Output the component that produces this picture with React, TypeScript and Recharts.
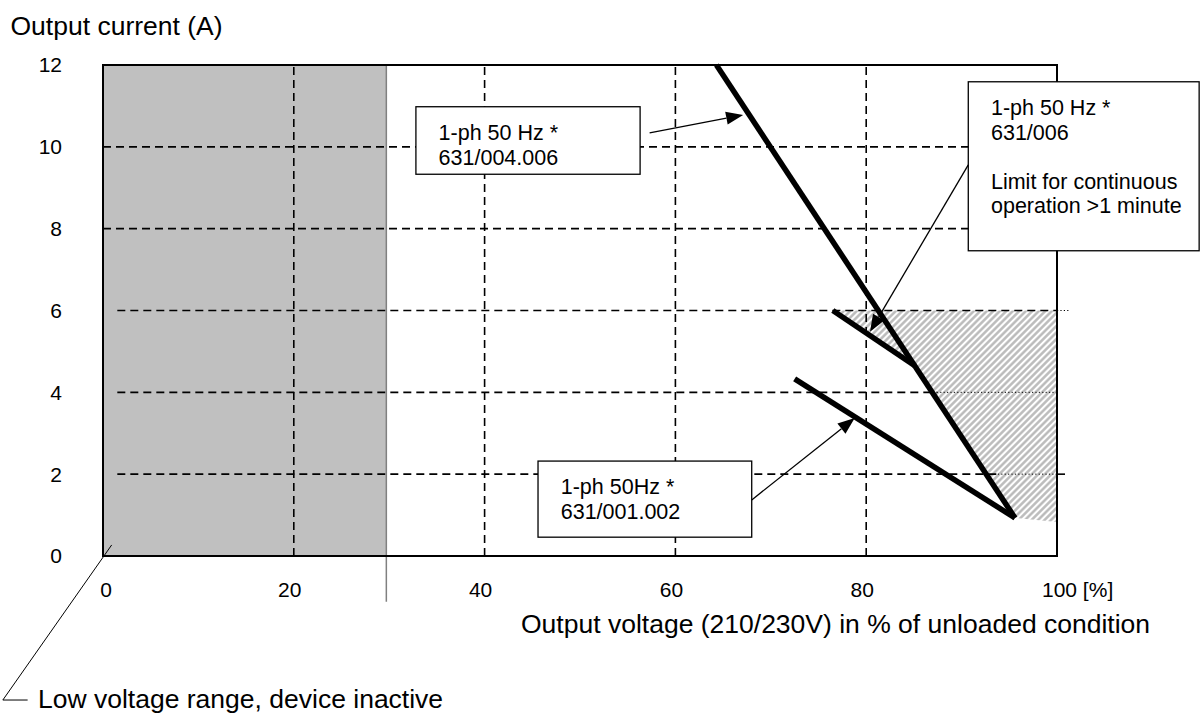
import React from "react";
import { ComposedChart, Line, Area, XAxis, YAxis, ReferenceArea, ReferenceLine } from "recharts";

const FONT = '"Liberation Sans", Arial, sans-serif';

const xTicks = [0, 20, 40, 60, 80, 100];
const yTicks = [0, 2, 4, 6, 8, 10, 12];

// limit curves, [output voltage %, output current A]
const curve004006 = [[64.3, 12], [95.6, 0.93]];
const curve006 = [[76.5, 6.0], [85.1, 4.65]];
const curve001002 = [[72.5, 4.33], [95.6, 0.93]];

// hatched zone under the 6 A line
const hatchX = [76.5, 85.1, 95.6, 100];
const hatchLow = [6.0, 4.65, 0.93, 0.83];
const hatchHigh = [6, 6, 6, 6];

// low voltage range, device inactive
const inactiveUntil = 29.7;

const vGrid = [20, 40, 60, 80];
const hGrid = [
  { y: 10, from: 0, to: 100, dotted: false },
  { y: 8, from: 0, to: 100, dotted: false },
  { y: 6, from: 1.5, to: 100, dotted: false },
  { y: 6, from: 100, to: 101.2, dotted: true },
  { y: 4, from: 1.5, to: 87.4, dotted: false },
  { y: 4, from: 87.4, to: 100, dotted: true },
  { y: 2, from: 1.5, to: 93.8, dotted: false },
  { y: 2, from: 93.8, to: 100, dotted: true },
  { y: 2, from: 100, to: 100.9, dotted: false },
];

const notes = [
  { x1: 32.8, x2: 56.3, y1: 9.33, y2: 10.98, lines: ["1-ph 50 Hz *", "631/004.006"] },
  { x1: 90.7, x2: 114.9, y1: 7.46, y2: 11.59, lines: ["1-ph 50 Hz *", "631/006", "", "Limit for continuous", "operation >1 minute"] },
  { x1: 45.6, x2: 68.0, y1: 0.46, y2: 2.32, lines: ["1-ph 50Hz *", "631/001.002"] },
];

const arrows = [
  { from: [57.3, 10.34], to: [67.1, 10.78] },
  { from: [90.7, 9.56], to: [80.4, 5.48] },
  { from: [68.0, 1.37], to: [78.8, 3.37] },
];

const leader = [[0.91, 0.27], [-10.5, -3.52], [-7.9, -3.52]];

type Row = { x: number; a?: number; b?: number; c?: number; hatch?: [number, number] };
const rowMap = new Map<number, Row>();
const put = (x: number, key: string, v: any) => {
  const r: any = rowMap.get(x) ?? { x };
  r[key] = v;
  rowMap.set(x, r);
};
curve004006.forEach(([x, y]) => put(x, "a", y));
curve006.forEach(([x, y]) => put(x, "b", y));
curve001002.forEach(([x, y]) => put(x, "c", y));
hatchX.forEach((x, i) => put(x, "hatch", [hatchLow[i], hatchHigh[i]]));
const rows = [...rowMap.values()].sort((p, q) => p.x - q.x);

function Arrow(p: any) {
  const { x1, y1, x2, y2 } = p;
  const ang = Math.atan2(y2 - y1, x2 - x1);
  const len = 17;
  const half = 6.5;
  const bx = x2 - len * Math.cos(ang);
  const by = y2 - len * Math.sin(ang);
  const nx = -Math.sin(ang) * half;
  const ny = Math.cos(ang) * half;
  return (
    <g>
      <line x1={x1} y1={y1} x2={bx} y2={by} stroke="#000" strokeWidth={1.3} />
      <polygon points={`${x2},${y2} ${bx + nx},${by + ny} ${bx - nx},${by - ny}`} fill="#000" />
    </g>
  );
}

const noteShape = (lines: string[]) => (p: any) => (
  <g>
    <rect x={p.x} y={p.y} width={p.width} height={p.height} fill="#fff" stroke="#000" strokeWidth={1.3} />
    {lines.map((t, i) =>
      t ? (
        <text key={i} x={p.x + 22.7} y={p.y + 33.3 + i * 24.6} fontSize={21.5} fontFamily={FONT} fill="#000">
          {t}
        </text>
      ) : null
    )}
  </g>
);

function XTick(p: any) {
  const v = p.payload.value;
  if (v === 100) {
    return (
      <text x={p.x - 15} y={p.y} dy="0.71em" textAnchor="start" fontSize={21} fontFamily={FONT} fill="#000">
        100 [%]
      </text>
    );
  }
  // labels sit a little left of their gridline, except the 0 at the corner
  const dx = v === 0 ? 3 : -4;
  return (
    <text x={p.x + dx} y={p.y} dy="0.71em" textAnchor="middle" fontSize={21} fontFamily={FONT} fill="#000">
      {v}
    </text>
  );
}

const title = (size: number): React.CSSProperties => ({
  position: "absolute",
  fontSize: size,
  lineHeight: `${size}px`,
  whiteSpace: "nowrap",
  color: "#000",
});

export default function App() {
  return (
    <div style={{ position: "absolute", left: 0, top: 0, width: 1200, height: 714, background: "#fff", fontFamily: FONT }}>
      <ComposedChart width={1200} height={714} data={rows} margin={{ top: 65, right: 143, bottom: 118, left: 0 }}>
        <defs>
          <pattern id="hatch" width="4.6" height="4.6" patternUnits="userSpaceOnUse" patternTransform="rotate(45)">
            <line x1="2.3" y1="0" x2="2.3" y2="4.6" stroke="#b8b8b8" strokeWidth="2.4" />
          </pattern>
        </defs>
        <XAxis
          dataKey="x"
          type="number"
          domain={[0, 100]}
          ticks={xTicks}
          axisLine={false}
          tickLine={false}
          tickSize={0}
          tickMargin={26}
          height={40}
          tick={<XTick />}
        />
        <YAxis
          type="number"
          domain={[0, 12]}
          ticks={yTicks}
          axisLine={false}
          tickLine={false}
          tickSize={0}
          tickMargin={41}
          width={103}
          tick={{ fontSize: 21, fill: "#000", fontFamily: FONT }}
        />
        <ReferenceArea zIndex={-200} x1={0} x2={inactiveUntil} y1={0} y2={12} fill="#c0c0c0" fillOpacity={1} stroke="none" />
        <Area
          zIndex={100}
          dataKey="hatch"
          type="linear"
          stroke="none"
          fill="url(#hatch)"
          fillOpacity={1}
          connectNulls
          dot={false}
          activeDot={false}
          isAnimationActive={false}
        />
        {vGrid.map((x) => (
          <ReferenceLine zIndex={150} key={`v${x}`} segment={[{ x, y: 0 }, { x, y: 12 }]} stroke="#000" strokeWidth={1.6} strokeDasharray="8 5" />
        ))}
        {hGrid.map((g, i) => (
          <ReferenceLine
            zIndex={150}
            key={`h${i}`}
            segment={[{ x: g.from, y: g.y }, { x: g.to, y: g.y }]}
            ifOverflow="visible"
            stroke="#000"
            strokeWidth={g.dotted ? 1 : 1.6}
            strokeDasharray={g.dotted ? "1.2 2.2" : "8 5"}
          />
        ))}
        <ReferenceLine
          zIndex={160}
          segment={[{ x: inactiveUntil, y: 12 }, { x: inactiveUntil, y: -1.12 }]}
          ifOverflow="visible"
          stroke="#808080"
          strokeWidth={1.5}
        />
        <ReferenceArea zIndex={200} x1={0} x2={100} y1={0} y2={12} fill="none" stroke="#000" strokeWidth={2} />
        <Line zIndex={400} dataKey="a" type="linear" stroke="#000" strokeWidth={5.5} dot={false} activeDot={false} connectNulls isAnimationActive={false} />
        <Line zIndex={400} dataKey="b" type="linear" stroke="#000" strokeWidth={5.5} dot={false} activeDot={false} connectNulls isAnimationActive={false} />
        <Line zIndex={400} dataKey="c" type="linear" stroke="#000" strokeWidth={5.5} dot={false} activeDot={false} connectNulls isAnimationActive={false} />
        {notes.map((n, i) => (
          <ReferenceArea zIndex={1500} key={`n${i}`} x1={n.x1} x2={n.x2} y1={n.y1} y2={n.y2} ifOverflow="visible" shape={noteShape(n.lines)} />
        ))}
        {arrows.map((a, i) => (
          <ReferenceLine
            zIndex={1600}
            key={`a${i}`}
            segment={[{ x: a.from[0], y: a.from[1] }, { x: a.to[0], y: a.to[1] }]}
            ifOverflow="visible"
            shape={<Arrow />}
          />
        ))}
        {leader.slice(1).map((pt, i) => (
          <ReferenceLine
            zIndex={1600}
            key={`l${i}`}
            segment={[{ x: leader[i][0], y: leader[i][1] }, { x: pt[0], y: pt[1] }]}
            ifOverflow="visible"
            stroke="#000"
            strokeWidth={1}
          />
        ))}
      </ComposedChart>
      <div style={{ ...title(26.5), left: 10.5, top: 12.6 }}>Output current (A)</div>
      <div style={{ ...title(26.5), left: 521, top: 610.9 }}>Output voltage (210/230V) in % of unloaded condition</div>
      <div style={{ ...title(26.5), left: 38, top: 685.6 }}>Low voltage range, device inactive</div>
    </div>
  );
}
